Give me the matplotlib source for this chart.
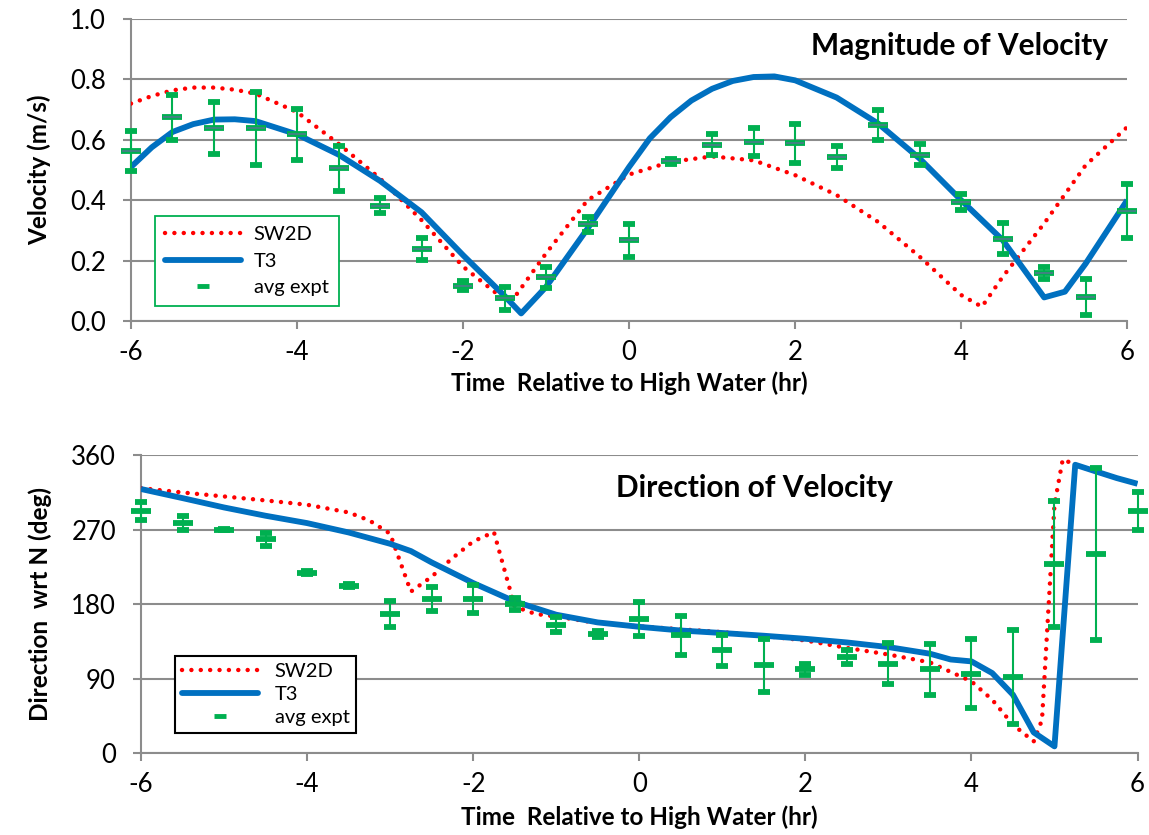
import matplotlib
matplotlib.use("Agg")
import matplotlib.pyplot as plt
from matplotlib.lines import Line2D

plt.rcParams['font.family'] = ['Lato', 'DejaVu Sans']
plt.rcParams['axes.unicode_minus'] = False

# measured points, every half hour
t_expt = [-6, -5.5, -5, -4.5, -4, -3.5, -3, -2.5, -2, -1.5, -1, -0.5, 0,
          0.5, 1, 1.5, 2, 2.5, 3, 3.5, 4, 4.5, 5, 5.5, 6]
mag_expt = [0.563, 0.675, 0.639, 0.638, 0.618, 0.506, 0.382, 0.239, 0.117, 0.076,
            0.145, 0.321, 0.267, 0.529, 0.584, 0.593, 0.588, 0.543, 0.648, 0.551,
            0.394, 0.273, 0.158, 0.080, 0.365]
mag_err = [0.067, 0.075, 0.085, 0.12, 0.085, 0.075, 0.025, 0.036, 0.015, 0.038,
           0.035, 0.025, 0.055, 0.008, 0.035, 0.045, 0.065, 0.038, 0.05, 0.035,
           0.025, 0.05, 0.02, 0.06, 0.09]
dir_expt = [292, 278, 270, 258, 218, 202, 168, 186, 186, 180, 155, 144, 162,
            142, 124, 106, 101, 116, 108, 101, 96, 92, 228, 240, 292]
dir_err = [11, 8, 1, 8, 2, 2, 16, 14, 17, 7, 9, 4, 21,
           23, 19, 32, 7, 9, 25, 31, 42, 57, 76, 104, 23]

# T3 model
t3_mag_t = [-6, -5.75, -5.5, -5.25, -5, -4.75, -4.5, -4, -3.5, -3, -2.5, -2, -1.5,
            -1.3, -1, -0.5, 0, 0.25, 0.5, 0.75, 1, 1.25, 1.5, 1.75, 2, 2.5, 3,
            3.5, 4, 4.5, 5, 5.25, 5.5, 6]
t3_mag = [0.51, 0.575, 0.626, 0.652, 0.667, 0.668, 0.662, 0.618, 0.551, 0.464,
          0.36, 0.218, 0.083, 0.025, 0.113, 0.306, 0.51, 0.605, 0.675, 0.73,
          0.769, 0.795, 0.808, 0.81, 0.797, 0.74, 0.654, 0.538, 0.4, 0.268,
          0.078, 0.097, 0.19, 0.4]
t3_dir_t = [-6, -5.5, -5, -4.5, -4, -3.5, -3, -2.75, -2.5, -2, -1.5, -1, -0.5, 0,
            0.5, 1, 1.5, 2, 2.5, 3, 3.5, 3.75, 4, 4.25, 4.5, 4.75, 5, 5.25,
            5.5, 5.75, 6]
t3_dir = [319, 308, 296.7, 286.7, 277.8, 266.5, 252.8, 244, 230.3, 205.4, 183.1,
          167.1, 157.8, 152.5, 148, 145, 141.7, 138, 133.6, 128, 120, 113, 110.7,
          96.6, 70.4, 24.9, 8, 348.3, 340.2, 332.2, 325.3]

# SW2D model
sw_mag_t = [-6, -5.75, -5.5, -5.25, -5, -4.75, -4.5, -4, -3.5, -3, -2.5, -2, -1.5,
            -1.45, -1.35, -1, -0.5, 0, 0.5, 1, 1.5, 2, 2.5, 3, 3.5, 4, 4.25,
            4.5, 5, 5.5, 6]
sw_mag = [0.72, 0.745, 0.764, 0.773, 0.773, 0.766, 0.753, 0.692, 0.587, 0.472,
          0.334, 0.18, 0.07, 0.065, 0.09, 0.224, 0.4, 0.485, 0.527, 0.545, 0.532,
          0.483, 0.417, 0.328, 0.213, 0.086, 0.047, 0.146, 0.323, 0.516, 0.642]
sw_dir_t = [-6, -5.5, -5, -4.5, -4, -3.5, -3.25, -3, -2.75, -2.5, -2.25, -2, -1.75,
            -1.5, -1.25, -1, -0.5, 0, 0.5, 1, 1.5, 2, 2.5, 3, 3.5, 4, 4.25, 4.5,
            4.75, 4.85, 5.0, 5.1, 5.25, 5.5, 6]
sw_dir = [320, 314.8, 310, 305.2, 300, 290.7, 281, 265, 195, 213, 235.5, 255.6,
          267, 177, 168, 165, 157, 153, 149.5, 146, 141.5, 136, 127, 119, 109.5,
          86.5, 64.4, 34.2, 14, 40, 300, 355, 348, 340, 325]

green = '#00B050'
blue = '#0070C0'
grid_c = '#8C8C8C'

fig = plt.figure(figsize=(11.49, 8.35), dpi=100)
ax1 = fig.add_axes([0.114, 0.6156, 0.867, 0.3616])
ax2 = fig.add_axes([0.1227, 0.0982, 0.8673, 0.3568])


def style(ax):
    for s in ['top', 'right']:
        ax.spines[s].set_visible(False)
    for s in ['left', 'bottom']:
        ax.spines[s].set_color(grid_c)
        ax.spines[s].set_linewidth(1.5)
    ax.yaxis.grid(True, color=grid_c, linewidth=1.5)
    ax.set_axisbelow(True)
    ax.tick_params(axis='both', colors=grid_c, length=6, width=1.5,
                   labelcolor='black', labelsize=18.5)
    ax.tick_params(axis='x', pad=8)
    ax.tick_params(axis='y', pad=12)
    ax.set_xlim(-6, 6)
    ax.set_xticks([-6, -4, -2, 0, 2, 4, 6])


def draw(ax, ts, ys, tt, yt, te, ye, err, center=None):
    ax.plot(ts, ys, color='red', lw=3.2, linestyle=(0, (0.01, 2.1)),
            dash_capstyle='round', zorder=3)
    ax.plot(tt, yt, color=blue, lw=4.2, zorder=4, solid_capstyle='butt')
    eb = ax.errorbar(te, ye, yerr=err, fmt='_', color=green, ecolor=green,
                     elinewidth=1.5, capsize=4.5, capthick=1.5, markersize=15,
                     mew=4.2, zorder=5)
    for art in eb.get_children():
        art.set_clip_on(False)
    if center:
        ax.plot(te, ye, linestyle='none', marker='_', color=center,
                markersize=13, mew=1.2, zorder=6, clip_on=False)
    handles = [Line2D([], [], color='red', lw=3.2, linestyle=(0, (0.01, 2.1)),
                      dash_capstyle='round'),
               Line2D([], [], color=blue, lw=4.2, solid_capstyle='round'),
               Line2D([], [], color=green, marker='_', linestyle='none',
                      markersize=9, mew=3.5)]
    return handles


style(ax1)
h = draw(ax1, sw_mag_t, sw_mag, t3_mag_t, t3_mag, t_expt, mag_expt, mag_err,
         center='#4E7A8C')
ax1.set_ylim(0, 1.0)
ax1.set_yticks([0, 0.2, 0.4, 0.6, 0.8, 1.0])
ax1.set_yticklabels(['0.0', '0.2', '0.4', '0.6', '0.8', '1.0'])
ax1.set_xlabel('Time  Relative to High Water (hr)', fontsize=17.5, fontweight='bold',
               labelpad=4)
ax1.set_ylabel('Velocity (m/s)', fontsize=17.5, fontweight='bold', labelpad=14)
ax1.text(0.981, 0.912, 'Magnitude of Velocity', transform=ax1.transAxes,
         ha='right', va='center', fontsize=21.5, fontweight='bold')
leg1 = ax1.legend(h, ['SW2D', 'T3', 'avg expt'], loc='lower left',
                  bbox_to_anchor=(0.024, 0.05), fontsize=14.5, handlelength=3.8,
                  fancybox=False, framealpha=1, borderpad=0.5, labelspacing=0.45,
                  borderaxespad=0, handletextpad=0.6)
leg1.get_frame().set_edgecolor(green)
leg1.get_frame().set_linewidth(1.3)

style(ax2)
h = draw(ax2, sw_dir_t, sw_dir, t3_dir_t, t3_dir, t_expt, dir_expt, dir_err)
ax2.set_ylim(0, 360)
ax2.set_yticks([0, 90, 180, 270, 360])
ax2.set_xlabel('Time  Relative to High Water (hr)', fontsize=17.5, fontweight='bold',
               labelpad=6)
ax2.set_ylabel('Direction  wrt N (deg)', fontsize=17.5, fontweight='bold', labelpad=14)
ax2.text(0.616, 0.889, 'Direction of Velocity', transform=ax2.transAxes,
         ha='center', va='center', fontsize=21.5, fontweight='bold')
leg2 = ax2.legend(h, ['SW2D', 'T3', 'avg expt'], loc='lower left',
                  bbox_to_anchor=(0.034, 0.067), fontsize=14.5, handlelength=3.8,
                  fancybox=False, framealpha=1, borderpad=0.35, labelspacing=0.3,
                  borderaxespad=0, handletextpad=0.8)
leg2.get_frame().set_edgecolor('black')
leg2.get_frame().set_linewidth(1.5)

fig.savefig('out.png', dpi=100)
